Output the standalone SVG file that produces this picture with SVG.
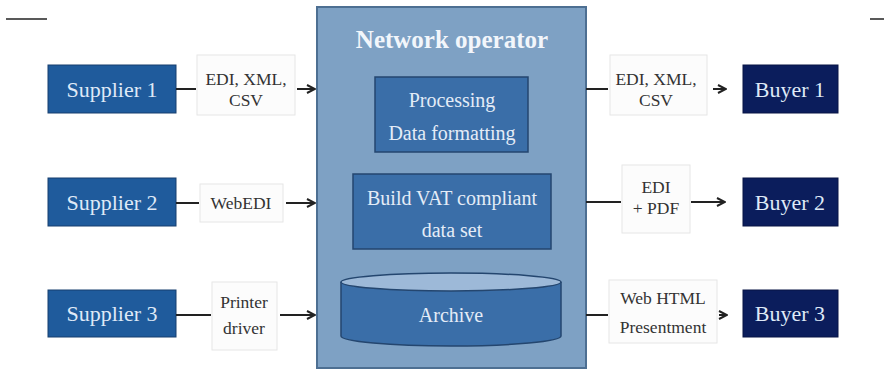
<svg xmlns="http://www.w3.org/2000/svg" width="884" height="377" viewBox="0 0 884 377">
<defs>
<style>
.sup{fill:#1f5b9c;stroke:#173f6e;stroke-width:1}
.buy{fill:#0b1d5c;stroke:#081545;stroke-width:1}
.nt{font-family:"Liberation Serif",serif;font-size:22px;fill:#dfe9f7;text-anchor:middle}
.lbl{fill:#fcfcfc;stroke:#e6e6e6;stroke-width:1}
.lt{font-family:"Liberation Serif",serif;font-size:17.5px;fill:#333;text-anchor:middle}
.inner{fill:#3a6ea8;stroke:#24466f;stroke-width:1.5}
.it{font-family:"Liberation Serif",serif;font-size:20px;fill:#e4ecf7;text-anchor:middle}
.ln{stroke:#222;stroke-width:2;fill:none}
</style>
<marker id="ah" viewBox="0 0 10 10" refX="9" refY="5" markerWidth="5" markerHeight="5" orient="auto">
<path d="M1,1 L9,5 L1,9" fill="none" stroke="#222" stroke-width="2"/>
</marker>
</defs>
<rect width="884" height="377" fill="#ffffff"/>
<line x1="6" y1="19" x2="47" y2="19" stroke="#222" stroke-width="1.5"/>
<line x1="870" y1="19" x2="884" y2="19" stroke="#222" stroke-width="1.5"/>

<g id="network-operator">
<rect x="317" y="7" width="269" height="361" fill="#7ea1c4" stroke="#4d6f92" stroke-width="2"/>
<text x="452" y="48" font-family="Liberation Serif,serif" font-size="25" font-weight="bold" fill="#f2f6fb" text-anchor="middle">Network operator</text>
</g>
<g id="processing">
<rect class="inner" x="375" y="77" width="153" height="75"/>
<text class="it" x="452" y="107">Processing</text>
<text class="it" x="452" y="140">Data formatting</text>
</g>
<g id="build-vat">
<rect class="inner" x="353" y="174" width="198" height="75"/>
<text class="it" x="452" y="205">Build VAT compliant</text>
<text class="it" x="452" y="237">data set</text>
</g>
<g id="archive">
<path d="M341,282 L341,336 A110,10 0 0 0 561,336 L561,282" class="inner"/>
<ellipse cx="451" cy="282" rx="110" ry="9" fill="#9db9d8" stroke="#24466f" stroke-width="1.5"/>
<text class="it" x="451" y="322">Archive</text>
</g>

<g id="supplier1"><rect class="sup" x="48" y="65" width="128" height="48"/><text class="nt" x="112" y="97">Supplier 1</text></g>
<g id="supplier2"><rect class="sup" x="48" y="178" width="128" height="48"/><text class="nt" x="112" y="210">Supplier 2</text></g>
<g id="supplier3"><rect class="sup" x="48" y="290" width="128" height="47"/><text class="nt" x="112" y="321">Supplier 3</text></g>

<g id="buyer1"><rect class="buy" x="743" y="65" width="95" height="48"/><text class="nt" x="790" y="97">Buyer 1</text></g>
<g id="buyer2"><rect class="buy" x="743" y="178" width="95" height="48"/><text class="nt" x="790" y="210">Buyer 2</text></g>
<g id="buyer3"><rect class="buy" x="743" y="290" width="95" height="47"/><text class="nt" x="790" y="321">Buyer 3</text></g>

<g id="label-s1"><rect class="lbl" x="197" y="55" width="98" height="60"/><text class="lt" x="246" y="85">EDI, XML,</text><text class="lt" x="246" y="106">CSV</text></g>
<g id="label-s2"><rect class="lbl" x="200" y="184" width="83" height="38"/><text class="lt" x="241" y="209">WebEDI</text></g>
<g id="label-s3"><rect class="lbl" x="212" y="282" width="65" height="68"/><text class="lt" x="244" y="308">Printer</text><text class="lt" x="244" y="334">driver</text></g>
<g id="label-b1"><rect class="lbl" x="610" y="55" width="97" height="60"/><text class="lt" x="656" y="85">EDI, XML,</text><text class="lt" x="656" y="106">CSV</text></g>
<g id="label-b2"><rect class="lbl" x="622" y="165" width="68" height="68"/><text class="lt" x="656" y="193">EDI</text><text class="lt" x="656" y="214">+ PDF</text></g>
<g id="label-b3"><rect class="lbl" x="609" y="280" width="108" height="63"/><text class="lt" x="663" y="304">Web HTML</text><text class="lt" x="663" y="333">Presentment</text></g>

<g id="connectors">
<line class="ln" x1="176" y1="89" x2="196" y2="89"/>
<line class="ln" x1="297" y1="89" x2="315" y2="89" marker-end="url(#ah)"/>
<line class="ln" x1="176" y1="203" x2="199" y2="203"/>
<line class="ln" x1="286" y1="203" x2="315" y2="203" marker-end="url(#ah)"/>
<line class="ln" x1="176" y1="315" x2="211" y2="315"/>
<line class="ln" x1="280" y1="315" x2="315" y2="315" marker-end="url(#ah)"/>
<line class="ln" x1="586" y1="89" x2="608" y2="89"/>
<line class="ln" x1="713" y1="89" x2="726" y2="89" marker-end="url(#ah)"/>
<line class="ln" x1="586" y1="202" x2="621" y2="202"/>
<line class="ln" x1="691" y1="202" x2="725" y2="202" marker-end="url(#ah)"/>
<line class="ln" x1="586" y1="315" x2="608" y2="315"/>
<line class="ln" x1="719" y1="315" x2="727" y2="315" marker-end="url(#ah)"/>
</g>
</svg>
